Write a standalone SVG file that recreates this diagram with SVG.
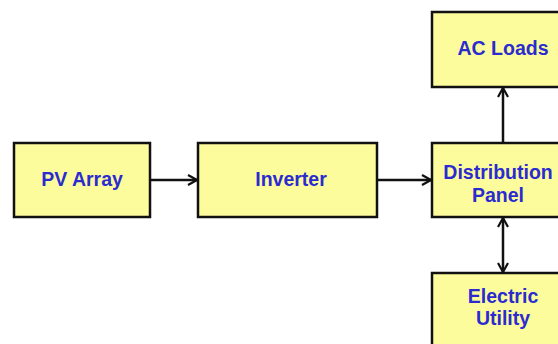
<svg xmlns="http://www.w3.org/2000/svg" width="558" height="344" viewBox="0 0 558 344">
<style>
.box{fill:#fdfc9c;stroke:#111;stroke-width:2.5}
.lbl{font-family:"Liberation Sans",Arial,sans-serif;font-weight:bold;font-size:19.5px;fill:#2b2bd0;text-anchor:middle}
.con{stroke:#111;stroke-width:2.5;fill:none}
</style>
<defs>
<marker id="ah" viewBox="0 0 12 12" refX="11" refY="6" markerWidth="12" markerHeight="12" markerUnits="userSpaceOnUse" orient="auto-start-reverse">
<path d="M2,1 L11,6 L2,11" fill="none" stroke="#111" stroke-width="2.2"/>
</marker>
</defs>
<rect width="558" height="344" fill="#fff"/>
<g id="connectors">
<line class="con" x1="150" y1="180" x2="197" y2="180" marker-end="url(#ah)"/>
<line class="con" x1="377" y1="180" x2="431" y2="180" marker-end="url(#ah)"/>
<line class="con" x1="503" y1="143" x2="503" y2="88" marker-end="url(#ah)"/>
<line class="con" x1="503" y1="218" x2="503" y2="272" marker-start="url(#ah)" marker-end="url(#ah)"/>
</g>
<g id="pv-array">
<rect class="box" x="14" y="143" width="136" height="74"/>
<text class="lbl" x="82" y="186">PV Array</text>
</g>
<g id="inverter">
<rect class="box" x="198" y="143" width="179" height="74"/>
<text class="lbl" x="291" y="186">Inverter</text>
</g>
<g id="ac-loads">
<rect class="box" x="432" y="12" width="142" height="75"/>
<text class="lbl" x="503" y="55">AC Loads</text>
</g>
<g id="distribution-panel">
<rect class="box" x="432" y="143" width="142" height="74"/>
<text class="lbl" x="498" y="179">Distribution</text>
<text class="lbl" x="498" y="202">Panel</text>
</g>
<g id="electric-utility">
<rect class="box" x="432" y="273" width="142" height="90"/>
<text class="lbl" x="503" y="303">Electric</text>
<text class="lbl" x="503" y="325">Utility</text>
</g>
</svg>
